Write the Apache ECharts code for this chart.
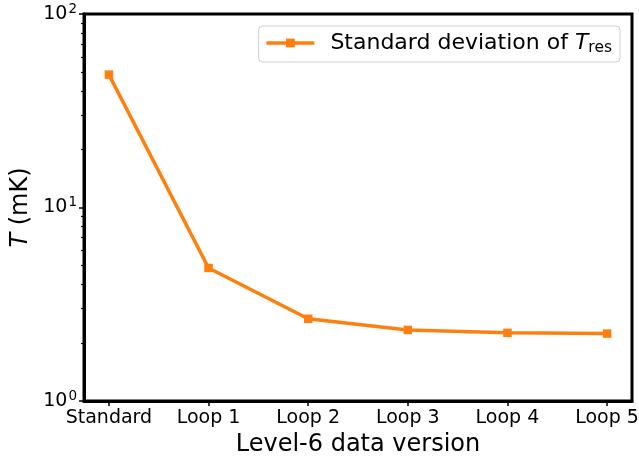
<!DOCTYPE html>
<html>
<head>
<meta charset="utf-8">
<script src="https://cdn.jsdelivr.net/npm/echarts@6/dist/echarts.min.js"></script>
<style>
  html, body { margin: 0; padding: 0; background: #fff; }
  #chart { width: 639px; height: 461px; }
</style>
</head>
<body>
<div id="chart"></div>
<script>
// Level-6 data versions along the x axis
const versions = ['Standard', 'Loop 1', 'Loop 2', 'Loop 3', 'Loop 4', 'Loop 5'];
// Standard deviation of T_res for each version (mK)
const stdTres = [48.6, 4.87, 2.66, 2.33, 2.25, 2.23];
// Log-axis decades and minor ticks
const majorTicks = [1, 10, 100];
const minorTicks = [2, 3, 4, 5, 6, 7, 8, 9, 20, 30, 40, 50, 60, 70, 80, 90];

const FONT = 'DejaVu Sans';
const ORANGE = '#ff7f0e';

const chart = echarts.init(document.getElementById('chart'), null, { renderer: 'canvas' });

const xIdx = versions.map((_, i) => i);

chart.setOption({
  animation: false,
  backgroundColor: '#fff',
  textStyle: { fontFamily: FONT },
  grid: {
    left: 84, right: 7, top: 14, bottom: 60,
    containLabel: false,
    outerBoundsMode: 'none',
    show: true, borderColor: '#000', borderWidth: 3, backgroundColor: 'transparent'
  },
  legend: {
    right: 19, top: 26,
    padding: [6, 8, 6, 6],
    itemWidth: 48, itemHeight: 11, itemGap: 14,
    borderColor: '#cccccc', borderWidth: 1, borderRadius: 4,
    backgroundColor: 'rgba(255,255,255,0.8)',
    lineStyle: { width: 3.5 },
    data: ['Standard deviation of T_res'],
    formatter: () => '{n|Standard deviation of }{i|T}{s|res}',
    textStyle: {
      fontFamily: FONT, fontSize: 22, color: '#000',
      rich: {
        n: { fontFamily: FONT, fontSize: 22, color: '#000', padding: [0, 0, 0, 11] },
        i: { fontFamily: FONT, fontSize: 22, fontStyle: 'italic', color: '#000' },
        s: { fontFamily: FONT, fontSize: 15.5, color: '#000', padding: [10, 0, 0, 0] }
      }
    }
  },
  xAxis: {
    type: 'value',
    min: -0.25, max: 5.25,
    name: 'Level-6 data version',
    nameLocation: 'middle',
    nameGap: 32,
    nameTextStyle: { fontFamily: FONT, fontSize: 24, color: '#000', verticalAlign: 'top' },
    splitLine: { show: false },
    axisLine: { show: true, onZero: false, lineStyle: { color: '#000', width: 3 } },
    axisTick: { show: true, customValues: xIdx, length: 5, lineStyle: { color: '#000', width: 1.5 } },
    axisLabel: {
      customValues: xIdx,
      formatter: v => versions[Math.round(v)] ?? '',
      fontFamily: FONT, fontSize: 19, color: '#000', margin: 8
    }
  },
  yAxis: [
    {
      type: 'log', logBase: 10, min: 1, max: 100,
      name: '{i|T} (mK)',
      nameLocation: 'middle',
      nameGap: 50,
      nameRotate: 90,
      nameTextStyle: {
        fontFamily: FONT, fontSize: 24, color: '#000',
        rich: { i: { fontFamily: FONT, fontSize: 24, fontStyle: 'italic', color: '#000' } }
      },
      splitLine: { show: false },
      axisLine: { show: true, onZero: false, lineStyle: { color: '#000', width: 3 } },
      axisTick: { show: true, customValues: majorTicks, length: 5, lineStyle: { color: '#000', width: 1.5 } },
      axisLabel: {
        customValues: majorTicks,
        formatter: v => '{b|10}{e|' + Math.round(Math.log10(v)) + '}',
        margin: 7,
        rich: {
          b: { fontFamily: FONT, fontSize: 19, color: '#000' },
          e: { fontFamily: FONT, fontSize: 13.5, color: '#000', padding: [0, 0, 10, 1] }
        }
      }
    },
    {
      type: 'log', logBase: 10, min: 1, max: 100,
      position: 'left',
      splitLine: { show: false },
      axisLine: { show: false, onZero: false },
      axisTick: { show: true, customValues: minorTicks, length: 3, lineStyle: { color: '#000', width: 1.2 } },
      axisLabel: { show: false }
    }
  ],
  series: [
    {
      name: 'Standard deviation of T_res',
      type: 'line',
      yAxisIndex: 0,
      data: stdTres.map((v, i) => [i, v]),
      symbol: 'rect',
      symbolSize: 8.5,
      lineStyle: { color: ORANGE, width: 3.5 },
      itemStyle: { color: ORANGE },
      z: 3
    }
  ]
});
</script>
</body>
</html>
